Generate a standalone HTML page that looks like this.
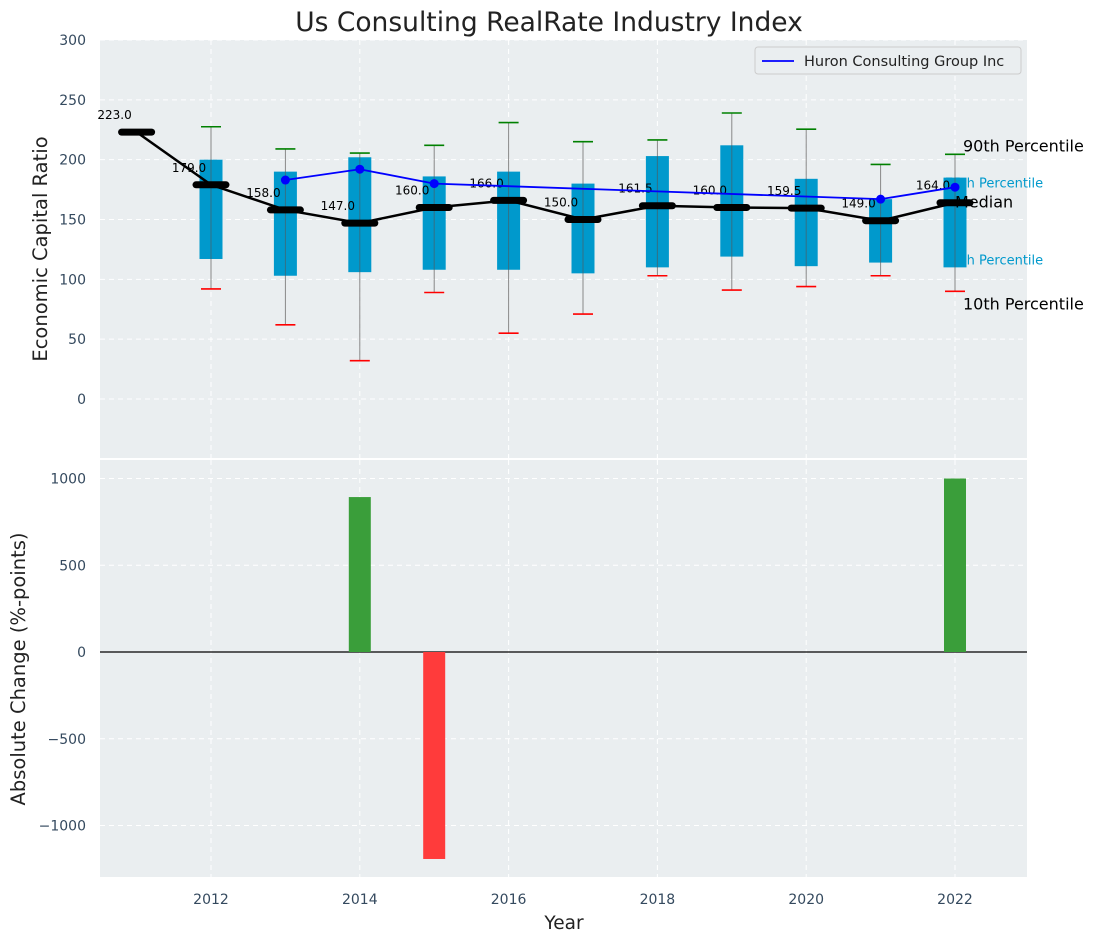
<!DOCTYPE html>
<html><head><meta charset="utf-8"><style>
body{margin:0;background:#fff;}
svg{display:block;font-family:"DejaVu Sans","Liberation Sans",sans-serif;}
</style></head><body>
<svg id="c" width="1098" height="942" viewBox="0 0 1098 942" xmlns="http://www.w3.org/2000/svg">
<text x="549" y="31" font-size="26.5" text-anchor="middle" fill="#222">Us Consulting RealRate Industry Index</text>
<rect x="100" y="40" width="927" height="418" fill="#eaeef0"/>
<rect x="100" y="460" width="927" height="417" fill="#eaeef0"/>
<g id="gtop"></g><g id="gbot"></g>
<text x="564" y="929" font-size="18.5" text-anchor="middle" fill="#222">Year</text>
<text transform="translate(47,249) rotate(-90)" font-size="19.5" text-anchor="middle" fill="#222">Economic Capital Ratio</text>
<text transform="translate(25,669) rotate(-90)" font-size="19.5" text-anchor="middle" fill="#222">Absolute Change (%-points)</text>
<g>
<rect x="755" y="47" width="266" height="27" rx="3" fill="#eaeef0" stroke="#ccc"/>
<line x1="762" y1="61" x2="794" y2="61" stroke="#0000ff" stroke-width="1.8"/>
<text x="804" y="66" font-size="14.5" fill="#222">Huron Consulting Group Inc</text>
</g>
</svg>
<script>
const years=[2011,2012,2013,2014,2015,2016,2017,2018,2019,2020,2021,2022];
const medians=[223,179,158,147,160,166,150,161.5,160,159.5,149,164];
const p75=[null,200,190,202,186,190,180,203,212,184,167,185];
const p25=[null,117,103,106,108,108,105,110,119,111,114,110];
const p90=[null,227.5,209,205.5,212,231,215,216.5,239,225.5,196,204.5];
const p10=[null,92,62,32,89,55,71,103,91,94,103,90];
const huron=[null,null,183,192,180,null,null,null,null,null,167,177];
const changeYears=[2014,2015,2022];
const changes=[893,-1193,1000];
const topTicks=[0,50,100,150,200,250,300];
const botTicks=[-1000,-500,0,500,1000];
const xTicks=[2012,2014,2016,2018,2020,2022];

const NS="http://www.w3.org/2000/svg";
const X=v=>211+(v-2012)*74.4;
const Y=v=>399-(v)*359/300;
const B=v=>652-v*0.1735;
function mk(p,t,a){const e=document.createElementNS(NS,t);for(const k in a)e.setAttribute(k,a[k]);p.appendChild(e);return e;}
const gTop=document.getElementById('gtop'),gBot=document.getElementById('gbot');
topTicks.forEach(t=>{
 const l=mk(gTop,'line',{x1:100,x2:1027,y1:Y(t),y2:Y(t),stroke:'#fff','stroke-dasharray':'5,4','stroke-width':1});
 
 
 const tx=mk(gTop,'text',{x:86,y:Y(t)+5,'font-size':14,'text-anchor':'end',fill:'#34495e'});tx.textContent=t;
 
 
});
botTicks.forEach(t=>{
 const l=mk(gBot,'line',{x1:100,x2:1027,y1:B(t),y2:B(t),stroke:'#fff','stroke-dasharray':'5,4','stroke-width':1});
 
 
 const tx=mk(gBot,'text',{x:86,y:B(t)+5,'font-size':14,'text-anchor':'end',fill:'#34495e'});tx.textContent=(t<0?'\u2212'+(-t):t);
 
 
});
xTicks.forEach(t=>{
 [[40,458,gTop],[460,877,gBot]].forEach(([a,b,g])=>{
  const l=mk(g,'line',{x1:X(t),x2:X(t),y1:a,y2:b,stroke:'#fff','stroke-dasharray':'5,4','stroke-width':1});
  
  
 });
 const tx=mk(gBot,'text',{x:X(t),y:904,'font-size':14,'text-anchor':'middle',fill:'#34495e'});tx.textContent=t;
 
 
});
const lx=X(2022);
[['75th Percentile',lx-10,Y(p75[11])+10,13,'#0099cc'],['25th Percentile',lx-10,Y(p25[11])-3,13,'#0099cc']].forEach(a=>{
 const t=mk(gTop,'text',{x:a[1],y:a[2],'font-size':a[3],fill:a[4]});t.textContent=a[0];
 
 
});
years.forEach((y,i)=>{
 if(p75[i]==null)return;
 const x=X(y);
 const w=mk(gTop,'line',{x1:x,x2:x,y1:Y(p90[i]),y2:Y(p10[i]),stroke:'#888','stroke-width':1});
 
 
 const r=mk(gTop,'rect',{x:x-11.5,y:Y(p75[i]),width:23,height:Y(p25[i])-Y(p75[i]),fill:'#0099cc'});
 
 
 const w2=mk(gTop,'line',{x1:x,x2:x,y1:Y(p75[i]),y2:Y(p25[i]),stroke:'#555','stroke-width':1,opacity:0.6});
 
 
 const c1=mk(gTop,'line',{x1:x-10,x2:x+10,y1:Y(p90[i]),y2:Y(p90[i]),stroke:'#008000','stroke-width':1.6});
 
 
 const c2=mk(gTop,'line',{x1:x-10,x2:x+10,y1:Y(p10[i]),y2:Y(p10[i]),stroke:'#ff0000','stroke-width':1.6});
 
 
});
const mp=mk(gTop,'polyline',{points:years.map((y,i)=>X(y)+','+Y(medians[i])).join(' '),fill:'none',stroke:'#000','stroke-width':2.5});


years.forEach((y,i)=>{
 const b=mk(gTop,'line',{x1:X(y)-15,x2:X(y)+15,y1:Y(medians[i]),y2:Y(medians[i]),stroke:'#000','stroke-width':7,'stroke-linecap':'round'});
 
 
 const t=mk(gTop,'text',{x:X(y)-22,y:Y(medians[i])-13,'font-size':12,'text-anchor':'middle',fill:'#000'});t.textContent=medians[i].toFixed(1);
 
 
});
const hp=[];years.forEach((y,i)=>{if(huron[i]!=null)hp.push([X(y),Y(huron[i])]);});
const hl=mk(gTop,'polyline',{points:hp.map(p=>p.join(',')).join(' '),fill:'none',stroke:'#0000ff','stroke-width':1.8});


hp.forEach(p=>{const c=mk(gTop,'circle',{cx:p[0],cy:p[1],r:4.5,fill:'#0000ff'});
 
 });
[['90th Percentile',lx+8,Y(p90[11])-3,16,'#000'],['Median',lx,Y(medians[11])+5,16,'#000'],['10th Percentile',lx+8,Y(p10[11])+18,16,'#000']].forEach(a=>{
 const t=mk(gTop,'text',{x:a[1],y:a[2],'font-size':a[3],fill:a[4]});t.textContent=a[0];
 
 
});
const z=mk(gBot,'line',{x1:100,x2:1027,y1:B(0),y2:B(0),stroke:'#000','stroke-width':1.2});


changeYears.forEach((y,i)=>{
 const v=changes[i];
 const r=mk(gBot,'rect',{x:X(y)-11,y:Math.min(B(v),B(0)),width:22,height:Math.abs(B(v)-B(0)),fill:v>=0?'#3a9e3a':'#ff3b3b'});
 
 
});
</script>
</body></html>
